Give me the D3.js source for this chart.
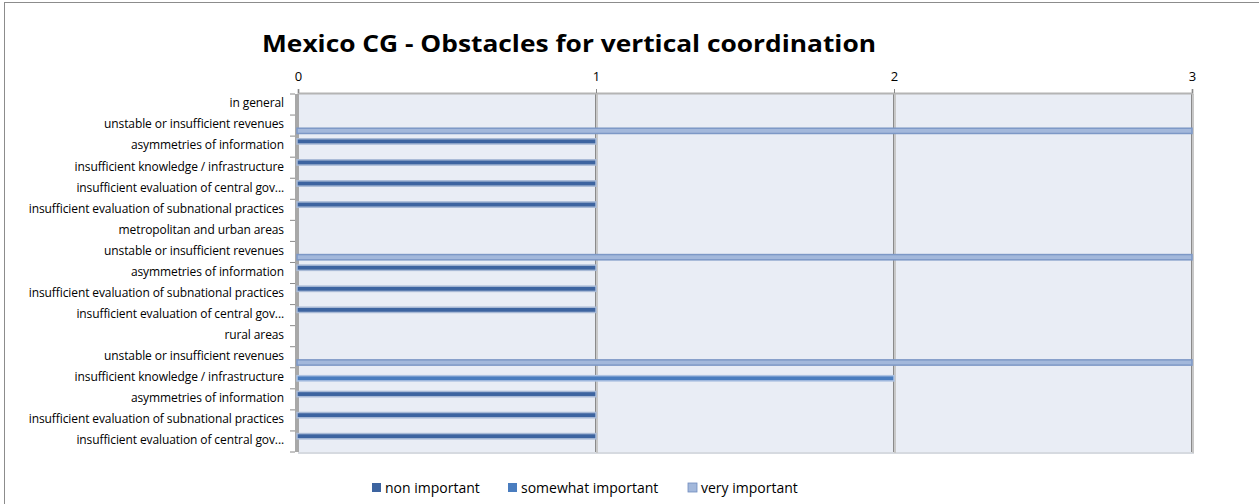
<!DOCTYPE html>
<html>
<head>
<meta charset="utf-8">
<script src="https://cdn.jsdelivr.net/npm/d3@7"></script>
<style>
  body { margin: 0; background: #fff; }
  text { font-family: "Open Sans", "Liberation Sans", sans-serif; fill: #000; }
</style>
</head>
<body>
<div id="chart-area"></div>
<script>
// categories top to bottom, header rows have no bars
const categories = [
  "in general",
  "unstable or insufficient revenues",
  "asymmetries of information",
  "insufficient knowledge / infrastructure",
  "insufficient evaluation of central gov...",
  "insufficient evaluation of subnational practices",
  "metropolitan and urban areas",
  "unstable or insufficient revenues",
  "asymmetries of information",
  "insufficient evaluation of subnational practices",
  "insufficient evaluation of central gov...",
  "rural areas",
  "unstable or insufficient revenues",
  "insufficient knowledge / infrastructure",
  "asymmetries of information",
  "insufficient evaluation of subnational practices",
  "insufficient evaluation of central gov..."
]
const seriesNames = ["non important", "somewhat important", "very important"]
const nonImportant      = [0, 0, 1, 1, 1, 1, 0, 0, 1, 1, 1, 0, 0, 0, 1, 1, 1]
const somewhatImportant = [0, 0, 0, 0, 0, 0, 0, 0, 0, 0, 0, 0, 0, 2, 0, 0, 0]
const veryImportant     = [0, 3, 0, 0, 0, 0, 0, 3, 0, 0, 0, 0, 3, 0, 0, 0, 0]
const xTicks = [0, 1, 2, 3]

const seriesValues = [nonImportant, somewhatImportant, veryImportant]
const colors = ["#3d64a0", "#4a7dbf", "#a3b8db"]
const strokes = ["#a9bad6", "#aec3e2", "#7d98c6"]

const W = 1259, H = 504
const PLOT = { LEFT: 298, RIGHT: 1192, TOP: 94, BOTTOM: 452 }

const svg = d3.select("#chart-area").append("svg")
  .attr("width", W)
  .attr("height", H)

// outer chart frame
svg.append("rect")
  .attr("x", 4.5).attr("y", 2.5)
  .attr("width", W).attr("height", H)
  .attr("fill", "none").attr("stroke", "#8c8c8c")

// title
svg.append("text")
  .attr("x", 262).attr("y", 52)
  .attr("font-size", "23px")
  .attr("font-weight", "bold")
  .attr("textLength", 614)
  .attr("lengthAdjust", "spacingAndGlyphs")
  .text("Mexico CG - Obstacles for vertical coordination")

const x = d3.scaleLinear()
  .domain([0, 3])
  .range([PLOT.LEFT, PLOT.RIGHT])

const y = d3.scaleBand()
  .domain(d3.range(categories.length))
  .range([PLOT.TOP, PLOT.BOTTOM])

const ySub = d3.scaleBand()
  .domain(d3.range(seriesNames.length))
  .range([0, y.bandwidth()])
  .paddingInner(0)
  .paddingOuter(0.5)

// plot background
svg.append("rect")
  .attr("x", PLOT.LEFT).attr("y", PLOT.TOP)
  .attr("width", PLOT.RIGHT - PLOT.LEFT)
  .attr("height", PLOT.BOTTOM - PLOT.TOP)
  .attr("fill", "#e9edf5")

// shadow under plot
svg.append("line")
  .attr("x1", PLOT.LEFT).attr("x2", PLOT.RIGHT + 2)
  .attr("y1", PLOT.BOTTOM + 1).attr("y2", PLOT.BOTTOM + 1)
  .attr("stroke", "#d6dae0").attr("stroke-width", 2)

// vertical gridlines
svg.append("g").selectAll("line")
  .data(xTicks.slice(1))
  .join("line")
  .attr("x1", d => x(d) + 1).attr("x2", d => x(d) + 1)
  .attr("y1", PLOT.TOP).attr("y2", PLOT.BOTTOM + 1)
  .attr("stroke", "#c8c8c8").attr("stroke-width", 2)
svg.append("g").selectAll("line")
  .data(xTicks.slice(1))
  .join("line")
  .attr("x1", d => x(d) - 0.5).attr("x2", d => x(d) - 0.5)
  .attr("y1", PLOT.TOP).attr("y2", PLOT.BOTTOM)
  .attr("stroke", "#8a8a8a").attr("stroke-width", 1)

// top value axis
const xAxis = d3.axisTop(x).tickValues(xTicks).tickFormat(d => d).tickSize(4)
const gx = svg.append("g")
  .attr("transform", `translate(0, ${PLOT.TOP - 1})`)
  .call(xAxis)
gx.select(".domain").attr("stroke", "#b4b4b4").attr("stroke-width", 2)
gx.selectAll(".tick line").attr("stroke", "#8a8a8a")
gx.selectAll("text")
  .attr("y", -12)
  .attr("font-size", "13px")
  .attr("font-family", "'Open Sans', sans-serif")
  .attr("fill", "#000")

// left category axis (thick grey wall)
svg.append("rect")
  .attr("x", PLOT.LEFT - 3).attr("y", PLOT.TOP)
  .attr("width", 4).attr("height", PLOT.BOTTOM - PLOT.TOP)
  .attr("fill", "#a8a8a8")

const yAxis = d3.axisLeft(y).tickFormat(i => categories[i]).tickSize(0)
const gy = svg.append("g")
  .attr("transform", `translate(${PLOT.LEFT - 14}, -1)`)
  .call(yAxis)
gy.select(".domain").remove()
gy.selectAll("text")
  .attr("x", 0)
  .attr("font-size", "12px")
  .attr("font-family", "'Open Sans', sans-serif")
  .attr("letter-spacing", "-0.1px")
  .attr("fill", "#000")

// category tick marks between bands
svg.append("g").selectAll("line")
  .data(d3.range(categories.length + 1))
  .join("line")
  .attr("x1", PLOT.LEFT - 8).attr("x2", PLOT.LEFT - 3)
  .attr("y1", i => PLOT.TOP + i * y.step())
  .attr("y2", i => PLOT.TOP + i * y.step())
  .attr("stroke", "#8a8a8a")

// bars
seriesValues.forEach((vals, s) => {
  svg.append("g").selectAll("rect")
    .data(vals.map((v, i) => ({ i, v })).filter(d => d.v > 0))
    .join("rect")
    .attr("x", x(0) - 1)
    .attr("y", d => y(d.i) + ySub(s))
    .attr("width", d => x(d.v) - x(0) + 1)
    .attr("height", ySub.bandwidth())
    .attr("fill", colors[s])
    .attr("stroke", strokes[s])
    .attr("stroke-width", 1.5)
})

// legend
const legendX = [372, 508, 688]
const legend = svg.append("g")
seriesNames.forEach((name, s) => {
  const row = legend.append("g").attr("transform", `translate(${legendX[s]}, 483)`)
  row.append("rect")
    .attr("width", 9).attr("height", 9)
    .attr("fill", colors[s])
    .attr("stroke", s === 2 ? "#6f8cbf" : "none")
    .attr("stroke-width", 0.8)
  row.append("text")
    .attr("x", 13).attr("y", 10)
    .attr("font-size", "14px")
    .text(name)
})
</script>
</body>
</html>
